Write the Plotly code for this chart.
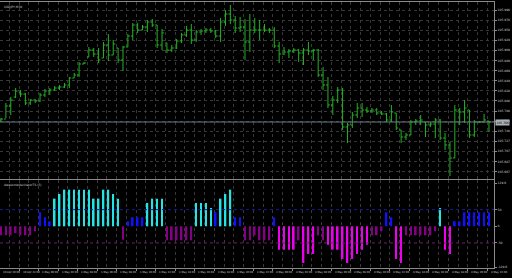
import plotly.graph_objects as go

# ---------------- data ----------------
bars = list(range(101))

open_ = [105.770, 105.772, 105.798, 105.816, 105.826, 105.822, 105.804, 105.810, 105.808, 105.820,
         105.828, 105.830, 105.834, 105.836, 105.840, 105.854, 105.860, 105.882, 105.896, 105.910,
         105.902, 105.894, 105.920, 105.900, 105.914, 105.890, 105.916, 105.938, 105.960, 105.950,
         105.956, 105.966, 105.960, 105.920, 105.924, 105.910, 105.914, 105.928, 105.940, 105.950,
         105.930, 105.946, 105.948, 105.950, 105.948, 105.938, 105.966, 105.982, 105.970, 105.954,
         105.956, 105.926, 105.950, 105.950, 105.950, 105.950, 105.950, 105.918, 105.902, 105.906,
         105.908, 105.910, 105.904, 105.910, 105.908, 105.910, 105.860, 105.840, 105.800, 105.810,
         105.830, 105.756, 105.760, 105.780, 105.794, 105.790, 105.788, 105.790, 105.784, 105.782,
         105.770, 105.784, 105.750, 105.736, 105.740, 105.766, 105.768, 105.766, 105.760, 105.762,
         105.770, 105.734, 105.720, 105.694, 105.790, 105.786, 105.790, 105.740, 105.766, 105.766,
         105.768]
high = [105.774, 105.804, 105.816, 105.834, 105.830, 105.824, 105.812, 105.812, 105.824, 105.832,
        105.834, 105.838, 105.840, 105.844, 105.856, 105.864, 105.886, 105.886, 105.916, 105.914,
        105.914, 105.926, 105.942, 105.930, 105.914, 105.918, 105.942, 105.964, 105.964, 105.960,
        105.970, 105.972, 105.960, 105.952, 105.924, 105.920, 105.932, 105.944, 105.958, 105.962,
        105.950, 105.952, 105.954, 105.954, 105.950, 105.974, 105.990, 106.000, 105.978, 105.976,
        105.972, 105.982, 105.974, 105.970, 105.962, 105.954, 105.956, 105.926, 105.916, 105.912,
        105.914, 105.912, 105.914, 105.926, 105.912, 105.912, 105.876, 105.856, 105.818, 105.836,
        105.834, 105.764, 105.786, 105.804, 105.804, 105.796, 105.794, 105.794, 105.788, 105.784,
        105.800, 105.784, 105.750, 105.744, 105.770, 105.772, 105.780, 105.766, 105.766, 105.774,
        105.772, 105.744, 105.726, 105.800, 105.794, 105.810, 105.790, 105.770, 105.768, 105.782,
        105.768]
low = [105.766, 105.774, 105.780, 105.814, 105.816, 105.800, 105.800, 105.804, 105.806, 105.816,
       105.820, 105.828, 105.830, 105.834, 105.834, 105.854, 105.856, 105.882, 105.896, 105.896,
       105.884, 105.894, 105.888, 105.900, 105.884, 105.868, 105.916, 105.930, 105.944, 105.950,
       105.946, 105.956, 105.914, 105.910, 105.904, 105.906, 105.912, 105.924, 105.936, 105.922,
       105.926, 105.940, 105.944, 105.944, 105.934, 105.926, 105.958, 105.962, 105.944, 105.946,
       105.890, 105.906, 105.944, 105.930, 105.946, 105.944, 105.914, 105.884, 105.900, 105.894,
       105.904, 105.886, 105.880, 105.900, 105.890, 105.856, 105.830, 105.794, 105.780, 105.804,
       105.750, 105.724, 105.754, 105.774, 105.776, 105.784, 105.784, 105.780, 105.780, 105.766,
       105.766, 105.750, 105.724, 105.730, 105.740, 105.760, 105.760, 105.736, 105.756, 105.734,
       105.730, 105.710, 105.658, 105.694, 105.760, 105.764, 105.734, 105.736, 105.764, 105.764,
       105.746]
close = [105.772, 105.798, 105.810, 105.828, 105.822, 105.804, 105.810, 105.808, 105.820, 105.828,
         105.830, 105.834, 105.836, 105.840, 105.854, 105.860, 105.882, 105.884, 105.910, 105.902,
         105.890, 105.920, 105.900, 105.922, 105.890, 105.916, 105.938, 105.960, 105.950, 105.956,
         105.966, 105.960, 105.920, 105.944, 105.910, 105.914, 105.928, 105.940, 105.950, 105.930,
         105.946, 105.948, 105.950, 105.948, 105.938, 105.966, 105.982, 105.970, 105.954, 105.956,
         105.926, 105.950, 105.950, 105.950, 105.950, 105.950, 105.918, 105.902, 105.906, 105.908,
         105.910, 105.904, 105.910, 105.908, 105.910, 105.860, 105.840, 105.800, 105.810, 105.830,
         105.756, 105.760, 105.780, 105.794, 105.790, 105.788, 105.790, 105.784, 105.782, 105.770,
         105.786, 105.754, 105.736, 105.740, 105.766, 105.768, 105.770, 105.760, 105.762, 105.770,
         105.734, 105.720, 105.694, 105.790, 105.786, 105.794, 105.740, 105.766, 105.766, 105.770,
         105.766]

osc = [-27, -27, -27, -20, -27, -27, -27, -15, 42, 27,
       15, 83, 97, 110, 110, 110, 110, 110, 110, 83,
       83, 110, 110, 97, 83, -40, 15, 27, 27, 27,
       70, 83, 83, 83, -42, -42, -42, -42, -42, -42,
       70, 70, 70, 55, 42, 83, 97, 110, 27, 27,
       -42, -42, -27, -42, -42, -42, 27, -70, -70, -70,
       -70, -42, -110, -83, -83, -27, -42, -55, -70, -70,
       -98, -110, -98, -83, -70, -55, -27, -27, -15, 42,
       27, -98, -110, -27, -27, -27, -27, -27, -27, -15,
       55, -70, -83, 15, 15, 42, 42, 42, 42, 42,
       42]
# histogram state: c = up above 0, b = down above 0, m = down below 0, p = up below 0
osc_state = list("pppppppp" "bbb" "cccccccccccccc" "p" "bbbb" "cccc" "pppppp" "cccc" "b" "ccc" "bb" "ppp"
                 "ppp" "b" "mmmm" "p" "mmm" "pp" "mmmmmmmmm" "ppp" "bb" "mm" "ppppppp" "c" "mm" "bbbbbbbb")

price_tick_vals = [105.990, 105.9698, 105.9496, 105.9294, 105.9092, 105.889, 105.8688, 105.8486,
                   105.8284, 105.8082, 105.788, 105.7678, 105.7476, 105.7274, 105.7072, 105.687, 105.6668]
price_tick_text = ["105.990", "105.970", "105.950", "105.929", "105.909", "105.889", "105.869", "105.849",
                   "105.828", "105.808", "105.788", "105.768", "105.748", "105.727", "105.707", "105.687", "105.667"]
osc_tick_vals = [129, 50, 0, -50, -123]
osc_tick_text = ["129.6", "50", "0", "-50", "-129.6"]
osc_levels = [50, -50]

time_bars = list(range(0, 101, 4))
time_labels = ["30 Apr 20:00", "30 Apr 22:00", "1 May 00:00", "1 May 02:00", "1 May 04:00",
               "1 May 06:00", "1 May 08:00", "1 May 10:00", "1 May 12:00", "1 May 14:00",
               "1 May 16:00", "1 May 18:00", "1 May 20:00", "1 May 22:00", "4 May 00:00",
               "4 May 02:00", "4 May 04:00", "4 May 06:00", "4 May 08:00", "4 May 10:00",
               "4 May 12:00", "4 May 14:00", "4 May 16:00", "4 May 18:00", "4 May 20:00",
               "4 May 22:00"]
symbol_title = "USDJPY,M30"
osc_title = "AwesomeOscillatorTS (5)"
last_price = close[-1]

# ---------------- style ----------------
GREEN = "#22b422"
STATE_COLORS = {"c": "#22e4e4", "b": "#1010ff", "m": "#ee00ee", "p": "#840084"}
GRID = "#383838"
FRAME = "#8a8a8a"
TXT = "#d0d0d0"
FONT = "DejaVu Sans"

XR = [-0.205, 101.03]
grid_major = [b - 0.3 for b in time_bars]
grid_minor = [b + 1.7 for b in time_bars[:-1]]

fig = go.Figure()
fig.add_trace(go.Ohlc(
    x=bars, open=open_, high=high, low=low, close=close,
    increasing=dict(line=dict(color=GREEN, width=1)),
    decreasing=dict(line=dict(color=GREEN, width=1)),
    tickwidth=0.4, xaxis="x", yaxis="y", showlegend=False, hoverinfo="skip"))
fig.add_trace(go.Bar(
    x=bars, y=osc, width=0.34,
    marker=dict(color=[STATE_COLORS[s] for s in osc_state], line=dict(width=0)),
    xaxis="x2", yaxis="y2", showlegend=False, hoverinfo="skip"))

grid_common = dict(showgrid=True, gridcolor=GRID, gridwidth=1, griddash="dot")

fig.update_layout(
    width=512, height=278,
    margin=dict(l=0, r=18, t=2, b=10),
    paper_bgcolor="black", plot_bgcolor="black",
    showlegend=False, hovermode=False,
    font=dict(family=FONT, size=3, color=TXT),
    xaxis=dict(domain=[0, 1], anchor="y", range=XR, side="top",
               rangeslider=dict(visible=False), showticklabels=False, ticks="",
               tickvals=grid_major, **grid_common,
               minor=dict(tickvals=grid_minor, showgrid=True, gridcolor=GRID, griddash="dot", ticks=""),
               showline=True, linecolor=FRAME, linewidth=1, mirror=False, zeroline=False),
    yaxis=dict(domain=[0.3346, 1], anchor="x", range=[105.652, 106.006], side="right",
               tickvals=price_tick_vals, ticktext=price_tick_text,
               ticks="outside", ticklen=2, tickcolor=FRAME,
               tickfont=dict(size=3, color=TXT, family=FONT),
               **grid_common,
               showline=True, linecolor=FRAME, linewidth=1, mirror=True, zeroline=False),
    xaxis2=dict(domain=[0, 1], anchor="y2", range=XR, matches="x",
                showticklabels=False, ticks="outside", ticklen=2, tickcolor=FRAME,
                tickvals=grid_major, **grid_common,
                minor=dict(tickvals=grid_minor, showgrid=True, gridcolor=GRID, griddash="dot", ticks=""),
                showline=True, linecolor=FRAME, linewidth=1, mirror=True, zeroline=False),
    yaxis2=dict(domain=[0, 0.3308], anchor="x2", range=[-125.1, 138.9], side="right",
                tickvals=osc_tick_vals, ticktext=osc_tick_text,
                ticks="outside", ticklen=2, tickcolor=FRAME,
                tickfont=dict(size=3, color=TXT, family=FONT),
                showgrid=False, showline=True, linecolor=FRAME, linewidth=1, mirror=True,
                zeroline=False),
)

# current price line and label
fig.add_shape(type="line", xref="x domain", yref="y", x0=0, x1=1, y0=last_price, y1=last_price,
              line=dict(color="#6a7684", width=1))
fig.add_annotation(xref="paper", yref="y", x=1.0, y=last_price, xanchor="left", yanchor="middle",
                   text=f"{last_price:.3f}", showarrow=False, bgcolor="#a8b0b8",
                   font=dict(size=3, color="#000000", family=FONT), borderpad=0.5, xshift=1)

# level lines
level_colors = ["#1a1aa0", "#701a70"]
for lv, col in zip(osc_levels, level_colors):
    fig.add_shape(type="line", xref="x2 domain", yref="y2", x0=0, x1=1, y0=lv, y1=lv,
                  line=dict(color=col, width=1, dash="dot"))

# titles
fig.add_annotation(xref="paper", yref="paper", x=0.004, y=1.0, xanchor="left", yanchor="top",
                   text=symbol_title, showarrow=False, font=dict(size=3, color=TXT, family=FONT), yshift=-1)
fig.add_annotation(xref="paper", yref="paper", x=0.004, y=0.3308, xanchor="left", yanchor="top",
                   text=osc_title, showarrow=False, font=dict(size=3, color=TXT, family=FONT), yshift=-1)

# time labels (left-aligned at their bars, MT4 style)
for b, lab in zip(time_bars, time_labels):
    fig.add_annotation(xref="x2", yref="paper", x=b, y=0, xanchor="left", yanchor="top",
                       text=lab, showarrow=False, font=dict(size=2.6, color=TXT, family=FONT), yshift=-1)

fig.write_html("out.html")
